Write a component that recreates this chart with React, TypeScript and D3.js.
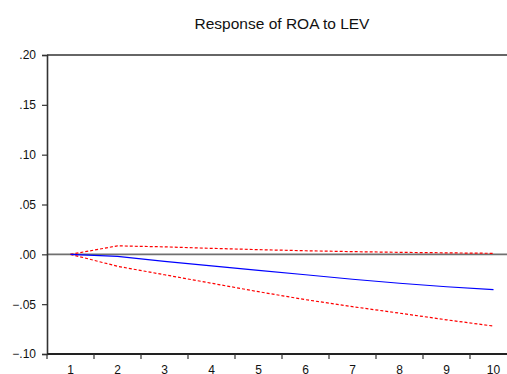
import React, { useEffect, useRef } from 'react';
import * as d3 from 'd3';

// impulse response periods and values
const periods = [1, 2, 3, 4, 5, 6, 7, 8, 9, 10];
const response = [0, -0.002, -0.007, -0.0115, -0.016, -0.0205, -0.025, -0.029, -0.0325, -0.0355];
const upperBand = [0, 0.0085, 0.0075, 0.006, 0.0047, 0.0036, 0.0027, 0.002, 0.0015, 0.001];
const lowerBand = [0, -0.012, -0.0205, -0.029, -0.0375, -0.0455, -0.0525, -0.059, -0.0657, -0.072];
const yTicks = [-0.1, -0.05, 0, 0.05, 0.1, 0.15, 0.2];

const W = 507;
const H = 374;

const App = () => {
  const svgRef = useRef<SVGSVGElement>(null);

  useEffect(() => {
    const svg = d3.select(svgRef.current);
    svg.selectAll('*').remove();

    const left = 47, top = 55, bottom = 354, right = 517;
    const font = '"Liberation Sans", Arial, sans-serif';

    const x = d3.scaleBand<number>().domain(periods).range([left, right]);
    const y = d3.scaleLinear().domain([-0.1, 0.2]).range([bottom, top]);
    const cx = (p: number) => (x(p) as number) + x.bandwidth() / 2;

    const fmt = (v: number) => d3.format('.2f')(v).replace('0.', '.');

    svg.append('rect').attr('width', W).attr('height', H).attr('fill', '#fff');

    // title
    svg.append('text')
      .attr('x', (left + right) / 2)
      .attr('y', 29)
      .attr('text-anchor', 'middle')
      .attr('font-family', font)
      .attr('font-size', '15.5px')
      .attr('fill', '#111')
      .text('Response of ROA to LEV');

    // zero line
    svg.append('line')
      .attr('x1', left).attr('x2', right)
      .attr('y1', y(0)).attr('y2', y(0))
      .attr('stroke', '#707070')
      .attr('stroke-width', 1.6);

    // series
    const line = d3.line<number>()
      .x((_, i) => cx(periods[i]))
      .y(d => y(d));

    const g = svg.append('g');
    g.append('path').datum(upperBand).attr('d', line)
      .attr('fill', 'none').attr('stroke', '#ff0000').attr('stroke-width', 1.2)
      .attr('stroke-dasharray', '3,2');
    g.append('path').datum(lowerBand).attr('d', line)
      .attr('fill', 'none').attr('stroke', '#ff0000').attr('stroke-width', 1.2)
      .attr('stroke-dasharray', '3,2');
    g.append('path').datum(response).attr('d', line)
      .attr('fill', 'none').attr('stroke', '#0000ff').attr('stroke-width', 1.2);

    // frame: top and left
    svg.append('line')
      .attr('x1', left).attr('x2', right).attr('y1', top).attr('y2', top)
      .attr('stroke', '#333').attr('stroke-width', 1.6);

    // y axis
    const yAxis = svg.append('g').attr('transform', `translate(${left},0)`)
      .call(d3.axisLeft(y).tickValues(yTicks).tickFormat(d => fmt(+d)).tickSize(5).tickPadding(6));
    yAxis.select('.domain').attr('stroke', '#333').attr('stroke-width', 1.6);
    yAxis.selectAll('.tick line').attr('stroke', '#333').attr('stroke-width', 1.2);
    yAxis.selectAll('text').attr('font-family', font).attr('font-size', '12px').attr('fill', '#111');

    // x axis with ticks at band boundaries
    const xAxis = svg.append('g').attr('transform', `translate(0,${bottom})`);
    xAxis.append('line')
      .attr('x1', left).attr('x2', right).attr('y1', 0).attr('y2', 0)
      .attr('stroke', '#222').attr('stroke-width', 1.8);
    const bounds = periods.map(p => x(p) as number).concat([right]);
    xAxis.selectAll('line.tk').data(bounds).enter().append('line')
      .attr('class', 'tk')
      .attr('x1', d => d).attr('x2', d => d)
      .attr('y1', 0).attr('y2', 5)
      .attr('stroke', '#333').attr('stroke-width', 1.2);
    xAxis.selectAll('text').data(periods).enter().append('text')
      .attr('x', d => cx(d))
      .attr('y', 19.5)
      .attr('text-anchor', 'middle')
      .attr('font-family', font)
      .attr('font-size', '12px')
      .attr('fill', '#111')
      .text(d => String(d));
  }, []);

  return (
    <svg
      ref={svgRef}
      width={W}
      height={H}
      style={{ position: 'absolute', left: 0, top: 0, display: 'block' }}
    />
  );
};

export default App;
